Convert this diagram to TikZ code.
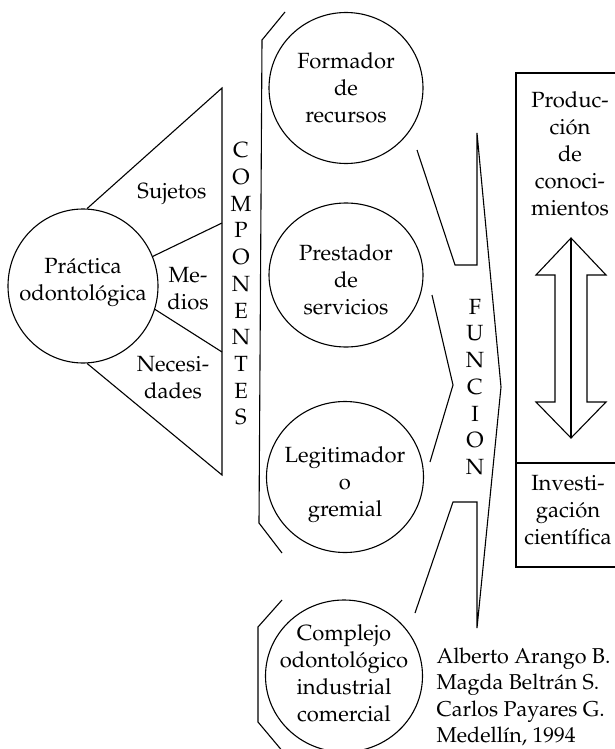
\documentclass[tikz,border=0pt]{standalone}
\usepackage[T1]{fontenc}
\usepackage{mathpazo}
\usetikzlibrary{shapes.geometric}
\begin{document}
\begin{tikzpicture}[x=1pt,y=-1pt, line width=1.1pt, line join=miter,
  ov/.style={draw, ellipse, inner sep=0pt},
  txt/.style={align=center, font=\fontsize{22}{27}\selectfont, inner sep=0pt},
  vtxt/.style={align=center, font=\fontsize{22}{26.7}\selectfont, inner sep=0pt},
  auth/.style={align=left, font=\fontsize{21.5}{26.5}\selectfont, inner sep=0pt, anchor=west}]
\useasboundingbox (0,0) rectangle (614,749);

% left circle and triangle
\node[ov, minimum width=150pt, minimum height=154pt] (prac) at (83,286) {};
\node[txt] (pracT) at (83,282) {Pr\'actica\\odontol\'ogica};
\coordinate (apex) at (222,88);
\coordinate (m1) at (222,223);
\coordinate (m2) at (222,352);
\coordinate (bot) at (222,475);
\draw (prac.87) -- (apex) -- (bot) -- (prac.-87);
\draw (prac.23) -- (m1);
\draw (prac.-18) -- (m2);
\node[txt] (suj) at (172,194) {Sujetos};
\node[txt] (med) at (188,289) {Me-\\dios};
\node[txt] (nec) at (173,378) {Necesi-\\dades};

% COMPONENTES
\node[vtxt] (comp) at (241,284) {C\\O\\M\\P\\O\\N\\E\\N\\T\\E\\S};

% bracket of components
\coordinate (b1) at (285,12);
\coordinate (b2) at (262,40);
\coordinate (b3) at (259,523);
\coordinate (b4) at (282,553);
\draw (b1) -- (b2) -- (b3) -- (b4);
\coordinate (c1) at (282,600);
\coordinate (c2) at (258,627);
\coordinate (c3) at (258,722);
\coordinate (c4) at (284,753);
\draw (c1) -- (c2) -- (c3) -- (c4);

% circles in the middle
\node[ov, minimum width=154pt, minimum height=151pt] (form) at (346,88) {};
\node[txt] (formT) at (346,88) {Formador\\de\\recursos};
\node[ov, minimum width=154pt, minimum height=144pt] (prest) at (346,275) {};
\node[txt] (prestT) at (346,280) {Prestador\\de\\servicios};
\node[ov, minimum width=157pt, minimum height=151pt] (legit) at (345,477) {};
\node[txt] (legitT) at (345,485) {Legitimador\\o\\gremial};
\node[ov, minimum width=157pt, minimum height=152pt] (compl) at (344,676) {};
\node[txt] (complT) at (344,673) {Complejo\\odontol\'ogico\\industrial\\comercial};

% FUNCION arrow
\coordinate (f1) at (417,150);
\coordinate (f2) at (455,265);
\coordinate (f3) at (477,265);
\coordinate (f4) at (477,133);
\coordinate (f5) at (501,387);
\coordinate (f6) at (477,628);
\coordinate (f7) at (477,502);
\coordinate (f8) at (453,502);
\coordinate (f9) at (415,613);
\draw (f1) -- (f2) -- (f3) -- (f4) -- (f5) -- (f6) -- (f7) -- (f8) -- (f9);
\coordinate (g1) at (432,295);
\coordinate (g2) at (453,385);
\coordinate (g3) at (430,462);
\draw (g1) -- (g2) -- (g3);
\node[vtxt] (func) at (475,387) {F\\U\\N\\C\\I\\O\\N};

% right box
\coordinate (r1) at (620,73);
\coordinate (r2) at (516,73);
\coordinate (r3) at (516,567);
\coordinate (r4) at (620,567);
\coordinate (r5) at (516,463);
\coordinate (r6) at (620,463);
\draw (r1) -- (r2) -- (r3) -- (r4);
\draw (r5) -- (r6);
\node[txt] (prod) at (570,154) {Produc-\\ci\'on\\de\\conoci-\\mientos};
\node[txt] (inv) at (568,510) {Investi-\\gaci\'on\\cient\'{\i}fica};

% double arrow
\coordinate (at) at (571,238);
\coordinate (ab) at (571,438);
\draw (at) -- (606,275) -- (587,275) -- (587,402) -- (606,402) -- (ab)
  -- (536,402) -- (555,402) -- (555,275) -- (536,275) -- cycle;
\draw (at) -- (ab);

% authors
\node[auth] (authors) at (436,697) {Alberto Arango B.\\Magda Beltr\'an S.\\Carlos Payares G.\\Medell\'{\i}n, 1994};
\end{tikzpicture}
\end{document}
